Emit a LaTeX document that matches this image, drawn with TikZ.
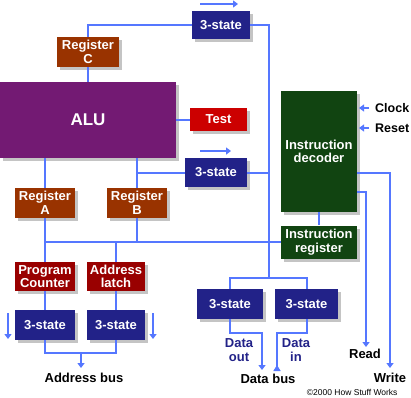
\documentclass[tikz,border=0pt]{standalone}
\usepackage{fontspec}
\setmainfont{Liberation Sans}
\usetikzlibrary{arrows.meta,shadows}
\definecolor{wire}{HTML}{5577FF}
\definecolor{alucol}{HTML}{731A73}
\definecolor{regcol}{HTML}{993300}
\definecolor{pccol}{HTML}{990000}
\definecolor{testcol}{HTML}{CC0000}
\definecolor{tricol}{HTML}{222288}
\definecolor{deccol}{HTML}{114411}
\definecolor{shade}{HTML}{C4C4C4}

\begin{document}
\begin{tikzpicture}[x=1pt, y=-1pt,
    box/.style={inner sep=0pt, align=center, text=white,
      font=\fontsize{13}{13.5}\selectfont\bfseries,
      drop shadow={shadow xshift=3pt, shadow yshift=-3pt, fill=shade, opacity=1}},
    reg/.style={box, fill=regcol, minimum width=60pt, minimum height=30pt},
    tri/.style={box, fill=tricol, minimum height=29pt},
    wire/.style={draw=wire, line width=2pt},
    arr/.style={wire, -{Triangle[length=5pt,width=7pt]}},
    lbl/.style={font=\fontsize{13}{13.5}\selectfont\bfseries, align=center}]
\useasboundingbox (0,0) rectangle (411,397);
% boxes
\node[box, fill=alucol, minimum width=176pt, minimum height=76pt,
  font=\fontsize{17}{17}\selectfont\bfseries] (alu) at (88,120) {ALU};
\node[reg, minimum width=62pt] (regC) at (88,52) {Register\\C};
\node[box, fill=testcol, minimum width=57pt, minimum height=23pt] (test) at (218.5,119.5) {Test};
\node[tri, minimum width=58pt, minimum height=28pt] (tsTop) at (221,25) {3-state};
\node[tri, minimum width=62pt] (tsMid) at (216,172.5) {3-state};
\node[box, fill=deccol, minimum width=76pt, minimum height=121pt] (dec) at (319,151.5) {Instruction\\decoder};
\node[box, fill=deccol, minimum width=76pt, minimum height=33pt] (ireg) at (319,242) {Instruction\\register};
\node[reg] (regA) at (45,203) {Register\\A};
\node[reg] (regB) at (137,203) {Register\\B};
\node[reg, fill=pccol, minimum height=29pt] (pc) at (45,276.5) {Program\\Counter};
\node[reg, fill=pccol, minimum width=58pt, minimum height=29pt] (alatch) at (116,276.5) {Address\\latch};
\node[tri, minimum width=60pt, minimum height=30pt] (tsPC) at (45,325) {3-state};
\node[tri, minimum width=58pt, minimum height=30pt] (tsAL) at (116,325) {3-state};
\node[tri, minimum width=66pt, minimum height=30pt] (tsOut) at (230,304) {3-state};
\node[tri, minimum width=63pt, minimum height=30pt] (tsIn) at (306.5,304) {3-state};

% free ends
\coordinate (dv) at (269,278);
\coordinate (abus) at (81,353);
\coordinate (aend) at (81,368);
\coordinate (outEnd) at (262,370);
\coordinate (inEnd) at (277,371);
\coordinate (readEnd) at (366,347);
\coordinate (writeEnd) at (390,368);

% connectors
\draw[wire] (regC.north) |- (tsTop.west);
\draw[wire] (regC) -- (alu);
\draw[wire] (alu.east |- test.west) -- (test.west);
\draw[wire] (regA.north |- alu.south) -- (regA.north);
\draw[wire] (regB.north |- alu.south) -- (regB.north);
\draw[wire] (regB.north |- tsMid.west) -- (tsMid.west);
\draw[wire] (tsTop.east) -| (dv);
\draw[wire] (tsMid.east) -- (tsMid.east -| dv);
\draw[wire] (regA.south) -- (pc.north);
\draw[wire] (pc.north |- ireg.west) -- (ireg.west);
\draw[wire] (regB.south) -- (regB.south |- ireg.west);
\draw[wire] (alatch.north) -- (alatch.north |- ireg.west);
\draw[wire] (dec.south) -- (ireg.north);
\draw[wire] (tsOut.north) |- (dv) -| (tsIn.north);
\draw[wire] (pc.south) -- (tsPC.north);
\draw[wire] (alatch.south) -- (tsAL.north);
\draw[wire] (tsPC.south) |- (abus) -| (tsAL.south);
\draw[arr] (abus) -- (aend);
\draw[arr] (tsOut.south) |- (outEnd |- 0,333) -- (outEnd);
\draw[wire, -{Triangle[length=6pt,width=7pt,reversed]}] (tsIn.south) |- (inEnd |- 0,333) -- (inEnd);
\draw[arr] (dec.east |- 0,192) -| (readEnd);
\draw[arr] (dec.east |- 0,173) -| (writeEnd);

% direction marks
\foreach \a/\b in {{(200,4)}/{(238,4)}, {(200,151)}/{(231,151)}, {(8,313)}/{(8,339)}, {(153,313)}/{(153,339)}, {(369,108)}/{(359,108)}, {(369,128)}/{(359,128)}}
    \draw[arr, line width=1.6pt] \a -- \b;

% labels
\node[lbl, anchor=west, inner sep=0pt, font=\fontsize{12.5}{13}\selectfont\bfseries] (clock) at (375,108) {Clock};
\node[lbl, anchor=west, inner sep=0pt, font=\fontsize{12.5}{13}\selectfont\bfseries] (reset) at (375,128) {Reset};
\node[lbl] (addr) at (84,378) {Address bus};
\node[lbl, text=tricol] (dout) at (239,350) {Data\\out};
\node[lbl, text=tricol] (din) at (296,350) {Data\\in};
\node[lbl] (dbus) at (268,379) {Data bus};
\node[lbl] (read) at (365,354) {Read};
\node[lbl] (write) at (390,378) {Write};
\node[font=\fontsize{8.5}{9}\selectfont, anchor=east] (copy) at (401,392) {©2000 How Stuff Works};
\end{tikzpicture}
\end{document}
